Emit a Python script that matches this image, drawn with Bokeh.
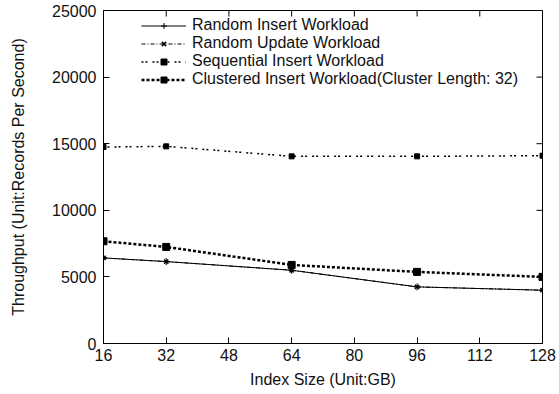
import math
from bokeh.plotting import figure
from bokeh.models import FixedTicker, Range1d, Legend, LegendItem
from bokeh.embed import file_html
from bokeh.resources import INLINE

index_size = [16, 32, 64, 96, 128]
random_insert = [6425, 6150, 5500, 4250, 4000]
random_update = [6425, 6150, 5500, 4250, 4000]
sequential_insert = [14750, 14800, 14050, 14050, 14100]
clustered_insert = [7675, 7250, 5900, 5375, 5000]

x_ticks = [16, 32, 48, 64, 80, 96, 112, 128]
y_ticks = [0, 5000, 10000, 15000, 20000, 25000]
x_min, x_max = 16, 128
y_min, y_max = 0, 25000

FONT = "Liberation Sans"
FS = "16px"

p = figure(width=559, height=394, output_backend="svg", toolbar_location=None,
           x_range=Range1d(x_min, x_max), y_range=Range1d(y_min, y_max),
           min_border_left=103, min_border_right=17, min_border_top=10, min_border_bottom=51)
p.xgrid.visible = False
p.ygrid.visible = False
p.outline_line_color = "black"
p.outline_line_width = 1
p.background_fill_color = "white"
p.border_fill_color = "white"

for ax in (p.xaxis[0], p.yaxis[0]):
    ax.major_tick_in = 6
    ax.major_tick_out = 0
    ax.minor_tick_in = 0
    ax.minor_tick_out = 0
    ax.axis_line_color = "black"
    ax.major_label_text_font = FONT
    ax.major_label_text_font_size = FS
    ax.major_label_text_color = "#111111"
    ax.axis_label_text_font = FONT
    ax.axis_label_text_font_size = FS
    ax.axis_label_text_font_style = "normal"
    ax.axis_label_text_color = "#111111"

p.xaxis[0].ticker = FixedTicker(ticks=x_ticks)
p.yaxis[0].ticker = FixedTicker(ticks=y_ticks)
p.xaxis[0].axis_label = "Index Size (Unit:GB)"
p.yaxis[0].axis_label = "Throughput (Unit:Records Per Second)"
p.xaxis[0].major_label_standoff = 5
p.yaxis[0].major_label_standoff = 7
p.xaxis[0].axis_label_standoff = 7
p.yaxis[0].axis_label_standoff = 22

# mirrored inward ticks on top and right borders
p.ray(x=x_ticks, y=[y_max] * len(x_ticks), length=6, length_units="screen",
      angle=-math.pi / 2, line_color="black", line_width=1)
p.ray(x=[x_max] * len(y_ticks), y=y_ticks, length=6, length_units="screen",
      angle=math.pi, line_color="black", line_width=1)

r1 = p.line(index_size, random_insert, line_color="black", line_width=1)
m1 = p.scatter(index_size, random_insert, marker="cross", size=7, line_color="black", line_width=1)
r2 = p.line(index_size, random_update, line_color="black", line_width=1, line_dash="4 2 1 2")
m2 = p.scatter(index_size, random_update, marker="x", size=6, line_color="black", line_width=1.5)
r3 = p.line(index_size, sequential_insert, line_color="black", line_width=1.5, line_dash="2 2 2 5")
m3 = p.scatter(index_size, sequential_insert, marker="square", size=5, fill_color="black", line_color="black")
r4 = p.line(index_size, clustered_insert, line_color="black", line_width=2.5, line_dash="3 2")
m4 = p.scatter(index_size, clustered_insert, marker="square", size=7, fill_color="black", line_color="black")

legend = Legend(items=[
    LegendItem(label="Random Insert Workload", renderers=[r1, m1]),
    LegendItem(label="Random Update Workload", renderers=[r2, m2]),
    LegendItem(label="Sequential Insert Workload", renderers=[r3, m3]),
    LegendItem(label="Clustered Insert Workload(Cluster Length: 32)", renderers=[r4, m4]),
], location=(38, 255))
legend.border_line_color = None
legend.background_fill_alpha = 0
legend.label_text_font = FONT
legend.label_text_font_size = FS
legend.label_text_color = "#111111"
legend.label_height = 15
legend.glyph_height = 15
legend.glyph_width = 45
legend.label_standoff = 6
legend.spacing = 0
legend.padding = 2
legend.margin = 0
p.add_layout(legend)

open("out.html", "w").write(file_html(p, INLINE))
